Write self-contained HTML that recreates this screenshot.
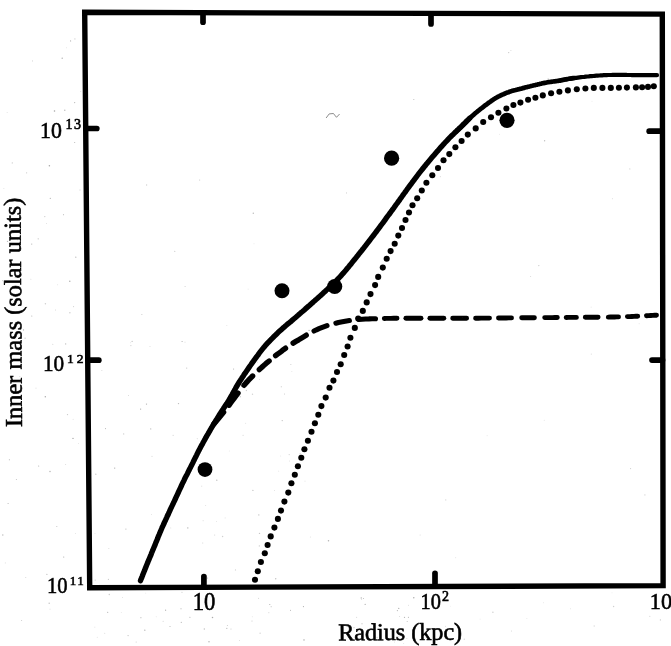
<!DOCTYPE html>
<html>
<head>
<meta charset="utf-8">
<title>Inner mass vs Radius</title>
<style>
  html, body { margin: 0; padding: 0; background: #ffffff; }
  body { width: 671px; height: 646px; overflow: hidden; }
  svg { display: block; filter: grayscale(1); }
  text { font-family: "Liberation Serif", serif; fill: #000; }
</style>
</head>
<body>
<svg width="671" height="646" viewBox="0 0 671 646">
  <rect x="0" y="0" width="671" height="646" fill="#ffffff"/>

  <!-- frame -->
  <polygon points="84.7,12.3 662.3,14.1 663.1,585.6 89.7,587.8" fill="none" stroke="#000" stroke-width="5.4" stroke-linejoin="miter"/>

  <!-- ticks -->
  <g stroke="#000" stroke-width="5.7" stroke-linecap="round" fill="none">
    <line x1="203" y1="14" x2="203" y2="22.2"/>
    <line x1="431" y1="14" x2="431" y2="24"/>
    <line x1="203.9" y1="586" x2="203.9" y2="576.5"/>
    <line x1="435" y1="586" x2="435" y2="573.4"/>
    <line x1="86" y1="128.5" x2="96.8" y2="128.5"/>
    <line x1="88" y1="360.2" x2="98.8" y2="360.2"/>
    <line x1="662" y1="131.2" x2="649.2" y2="131.2"/>
    <line x1="662.5" y1="360.1" x2="652" y2="360.1"/>
  </g>

  <!-- solid curve (total) -->
  <g fill="none" stroke="#000" stroke-linecap="round" stroke-linejoin="round">
    <path d="M140.5,580.6 L140.8,579.8 L141.2,578.8 L141.7,577.7 L142.2,576.4 L142.7,575.0 L143.3,573.5 L143.9,572.0 L144.6,570.4 L145.2,568.8 L145.8,567.2 L146.4,565.7 L147.0,564.3 L147.6,562.9 L148.1,561.5 L148.7,560.1 L149.3,558.7 L149.9,557.3 L150.5,555.9 L151.1,554.4 L151.6,553.0 L152.2,551.6 L152.8,550.1 L153.4,548.7 L154.0,547.3 L154.6,545.9 L155.2,544.5 L155.7,543.0 L156.3,541.6 L156.9,540.2 L157.5,538.8 L158.0,537.3 L158.6,535.9 L159.2,534.5 L159.8,533.0 L160.4,531.6 L161.0,530.2 L161.6,528.8 L162.2,527.3 L162.9,525.9 L163.5,524.5 L164.2,523.0 L164.8,521.6 L165.5,520.2 L166.1,518.8 L166.8,517.3 L167.4,515.9 L168.1,514.6 L168.7,513.2 L169.3,511.9 L169.9,510.5 L170.5,509.2 L171.1,507.9 L171.7,506.6 L172.3,505.4 L172.9,504.1 L173.5,502.8 L174.1,501.6 L174.7,500.3 L175.3,499.0 L175.9,497.7 L176.5,496.4 L177.1,495.1 L177.7,493.8 L178.3,492.5 L178.9,491.2 L179.5,489.9 L180.1,488.6 L180.7,487.3 L181.3,486.0 L181.9,484.7 L182.5,483.4 L183.2,482.0 L183.9,480.6 L184.5,479.2 L185.2,477.8 L185.9,476.4 L186.7,475.0 L187.4,473.6 L188.1,472.1 L188.8,470.7 L189.5,469.3 L190.3,467.8 L191.0,466.4 L191.7,465.0 L192.4,463.6 L193.1,462.2 L193.8,460.7 L194.5,459.3 L195.2,457.9 L195.9,456.5 L196.6,455.1 L197.3,453.6 L198.0,452.2 L198.7,450.8 L199.5,449.4 L200.2,448.0 L200.9,446.6 L201.7,445.2 L202.5,443.8 L203.2,442.4 L204.0,441.0 L204.8,439.6 L205.5,438.2 L206.3,436.8 L207.1,435.4 L207.9,434.1 L208.7,432.7 L209.5,431.3 L210.3,429.9 L211.1,428.5 L211.9,427.2 L212.7,425.8 L213.6,424.4 L214.4,423.0 L215.2,421.7 L216.0,420.3 L216.9,419.0 L217.7,417.6 L218.5,416.3 L219.3,415.0 L220.1,413.7 L220.9,412.5 L221.7,411.3 L222.5,410.1 L223.3,408.9 L224.0,407.7 L224.8,406.5 L225.6,405.3 L226.4,404.1 L227.2,402.9 L228.0,401.6 L228.8,400.3 L229.6,399.0 L230.4,397.6 L231.2,396.2 L232.0,394.8 L232.8,393.3 L233.6,391.9 L234.4,390.4 L235.2,389.0 L236.0,387.5 L236.9,386.0 L237.8,384.5 L238.7,383.0 L239.6,381.5 L240.6,380.0 L241.6,378.5 L242.6,376.9 L243.6,375.4 L244.6,373.8 L245.7,372.3 L246.8,370.7 L247.8,369.2 L248.9,367.6 L250.0,366.0 L251.1,364.5 L252.2,362.9 L253.3,361.4 L254.4,359.8 L255.6,358.2 L256.7,356.6 L257.9,355.1 L259.0,353.5 L260.2,351.9 L261.4,350.4 L262.6,348.9 L263.8,347.4 L265.0,346.0 L266.2,344.6 L267.5,343.2 L268.8,341.8 L270.1,340.5 L271.4,339.1 L272.7,337.8 L274.0,336.5 L275.3,335.3 L276.6,334.0 L277.8,332.8 L279.1,331.6 L280.3,330.5 L281.5,329.4 L282.6,328.4 L283.8,327.4 L284.9,326.4 L286.0,325.5 L287.0,324.6 L288.1,323.7 L289.2,322.8 L290.4,321.9 L291.5,320.9 L292.7,319.9 L294.0,318.8 L295.3,317.7 L296.7,316.5 L298.1,315.3 L299.5,314.0 L301.0,312.7 L302.5,311.5 L304.0,310.2 L305.4,308.9 L306.9,307.6 L308.3,306.4 L309.7,305.2 L311.0,304.0 L312.3,302.9 L313.5,301.8 L314.7,300.8 L315.8,299.8 L317.0,298.8 L318.1,297.8 L319.2,296.8 L320.4,295.8 L321.5,294.7 L322.6,293.7 L323.8,292.6 L325.0,291.5 L326.2,290.3 L327.5,289.2 L328.8,287.9 L330.1,286.7 L331.4,285.5 L332.7,284.2 L334.0,282.9 L335.3,281.6 L336.6,280.4 L337.8,279.1 L339.0,277.8 L340.2,276.6 L341.3,275.4 L342.4,274.1 L343.5,272.9 L344.5,271.7 L345.6,270.5 L346.6,269.3 L347.6,268.1 L348.6,266.9 L349.6,265.6 L350.6,264.4 L351.6,263.2 L352.6,261.9 L353.6,260.6 L354.7,259.4 L355.7,258.1 L356.7,256.8 L357.8,255.5 L358.8,254.2 L359.8,252.9 L360.9,251.6 L361.9,250.3 L362.9,249.0 L364.0,247.7 L365.0,246.4 L366.0,245.1 L367.1,243.7 L368.1,242.4 L369.2,241.0 L370.2,239.6 L371.3,238.2 L372.3,236.9 L373.4,235.5 L374.4,234.2 L375.4,232.8 L376.4,231.5 L377.4,230.2 L378.4,228.9 L379.3,227.7 L380.2,226.4 L381.1,225.2 L382.0,224.0 L382.9,222.8 L383.8,221.6 L384.7,220.4 L385.5,219.2 L386.4,217.9 L387.3,216.7 L388.2,215.5 L389.1,214.3 L390.1,213.0 L391.0,211.7 L392.0,210.4 L392.9,209.1 L393.9,207.8 L394.8,206.5 L395.7,205.2 L396.6,204.0 L397.5,202.8 L398.3,201.7 L399.1,200.6 L399.8,199.6 L400.4,198.7 L401.0,197.9 L401.5,197.2 L402.0,196.5 L402.5,195.8 L403.0,195.1 L403.5,194.3 L404.1,193.5 L404.8,192.6 L405.5,191.6 L406.3,190.5 L407.2,189.2 L408.2,187.9 L409.3,186.4 L410.4,184.9 L411.6,183.3 L412.8,181.6 L414.1,180.0 L415.3,178.3 L416.6,176.6 L417.8,175.0 L419.0,173.4 L420.2,171.9 L421.4,170.4 L422.5,169.0 L423.7,167.5 L424.9,166.1 L426.0,164.6 L427.2,163.2 L428.4,161.8 L429.5,160.4 L430.7,159.0 L431.9,157.6 L433.0,156.3 L434.2,154.9 L435.4,153.5 L436.5,152.2 L437.7,150.9 L438.9,149.5 L440.0,148.2 L441.2,146.9 L442.4,145.6 L443.5,144.3 L444.7,143.0 L445.8,141.8 L447.0,140.6 L448.1,139.4 L449.2,138.2 L450.3,137.1 L451.4,136.0 L452.5,134.9 L453.6,133.9 L454.7,132.8 L455.8,131.8 L456.8,130.8 L457.9,129.8 L458.9,128.8 L460.0,127.8 L461.0,126.8 L462.0,125.8 L463.0,124.9 L463.9,123.9 L464.9,123.0 L465.8,122.1 L466.7,121.1 L467.7,120.2 L468.6,119.3 L469.5,118.4" stroke-width="5.4"/>
    <path d="M455.8,131.8 L456.8,130.8 L457.9,129.8 L458.9,128.8 L460.0,127.8 L461.0,126.8 L462.0,125.8 L463.0,124.9 L463.9,123.9 L464.9,123.0 L465.8,122.1 L466.7,121.1 L467.7,120.2 L468.6,119.3 L469.5,118.4 L470.5,117.6 L471.4,116.7 L472.4,115.8 L473.4,114.9 L474.4,114.0 L475.4,113.2 L476.5,112.3 L477.5,111.4 L478.5,110.6 L479.6,109.7 L480.6,108.9 L481.7,108.1 L482.7,107.3 L483.8,106.5 L484.8,105.7 L485.8,104.9 L486.9,104.2 L487.9,103.4 L488.9,102.6 L490.0,101.9 L491.0,101.2 L492.0,100.4 L493.1,99.7 L494.1,99.1 L495.1,98.4 L496.2,97.8 L497.2,97.2 L498.2,96.6 L499.3,96.1 L500.3,95.6 L501.3,95.1 L502.3,94.6 L503.4,94.2 L504.4,93.8 L505.4,93.3 L506.4,92.9 L507.4,92.5 L508.5,92.2 L509.5,91.8 L510.5,91.4 L511.6,91.1 L512.6,90.8 L513.6,90.5 L514.7,90.2 L515.7,90.0 L516.7,89.7 L517.8,89.4 L518.8,89.2 L519.8,88.9 L520.9,88.7 L521.9,88.4 L522.9,88.1 L524.0,87.9 L525.0,87.6 L526.0,87.3 L527.1,87.1 L528.1,86.8 L529.1,86.6 L530.2,86.3 L531.2,86.0 L532.2,85.8 L533.3,85.5 L534.3,85.3 L535.3,85.1 L536.4,84.8 L537.4,84.6 L538.4,84.3 L539.5,84.1 L540.5,83.8 L541.5,83.6 L542.6,83.3 L543.6,83.1 L544.6,82.9 L545.7,82.7 L546.7,82.5 L547.7,82.3 L548.8,82.1 L549.9,82.0 L551.0,81.8 L552.0,81.7 L553.1,81.5 L554.2,81.4 L555.2,81.3 L556.3,81.1 L557.2,81.0 L558.2,80.8 L559.1,80.7 L559.9,80.6 L560.7,80.4 L561.3,80.3 L562.0,80.1 L562.6,80.0 L563.2,79.9 L563.8,79.7 L564.4,79.6 L565.1,79.5 L565.9,79.3 L566.9,79.2 L567.9,79.0 L569.1,78.8 L570.4,78.6 L571.7,78.4 L573.2,78.2 L574.7,78.0" stroke-width="4.7"/>
    <path d="M560.7,80.4 L561.3,80.3 L562.0,80.1 L562.6,80.0 L563.2,79.9 L563.8,79.7 L564.4,79.6 L565.1,79.5 L565.9,79.3 L566.9,79.2 L567.9,79.0 L569.1,78.8 L570.4,78.6 L571.7,78.4 L573.2,78.2 L574.7,78.0 L576.3,77.8 L577.9,77.6 L579.5,77.4 L581.1,77.2 L582.7,77.0 L584.3,76.9 L585.8,76.7 L587.3,76.5 L588.8,76.4 L590.3,76.2 L591.8,76.1 L593.3,76.0 L594.8,75.8 L596.2,75.7 L597.7,75.6 L599.2,75.5 L600.7,75.4 L602.2,75.3 L603.7,75.2 L605.2,75.1 L606.7,75.1 L608.2,75.0 L609.7,75.0 L611.2,75.0 L612.7,74.9 L614.1,74.9 L615.6,74.9 L617.1,74.9 L618.6,74.9 L620.1,74.9 L621.6,74.9 L623.1,74.9 L624.6,74.9 L626.1,74.9 L627.5,75.0 L629.0,75.0 L630.5,75.0 L632.0,75.1 L633.5,75.1 L635.0,75.1 L636.4,75.2 L637.9,75.2 L639.4,75.2 L640.9,75.2 L642.5,75.2 L644.2,75.2 L645.9,75.2 L647.6,75.2 L649.3,75.2 L650.9,75.2 L652.4,75.2 L653.8,75.2 L655.1,75.2 L656.2,75.2 L657.0,75.2" stroke-width="4.2"/>
  </g>

  <!-- dashed curve -->
  <g fill="none" stroke="#000" stroke-linecap="round" stroke-linejoin="round">
    <path d="M213.7,424.1 L215.4,422.2 L217.2,420.0 L219.1,417.7 L221.3,415.0 L223.6,412.3" stroke-width="5.4"/>
    <path d="M229.1,405.2 L230.8,402.8 L232.5,400.5 L234.3,398.1 L236.1,395.7 L238.0,393.1" stroke-width="5.4"/>
    <path d="M244.0,385.3 L245.6,383.4 L247.2,381.6 L249.0,379.7 L250.8,377.8 L252.6,376.0" stroke-width="5.4"/>
    <path d="M259.3,369.6 L261.3,367.8 L263.2,366.0 L265.2,364.3 L267.1,362.6 L269.1,361.0" stroke-width="5.4"/>
    <path d="M275.6,355.7 L277.5,354.2 L279.4,352.8 L281.4,351.3 L283.4,349.7 L285.5,348.2" stroke-width="5.4"/>
    <path d="M293.1,343.1 L295.9,341.4 L298.7,339.8 L301.3,338.2 L303.8,336.7 L306.2,335.2" stroke-width="5.4"/>
    <path d="M314.0,331.0 L316.5,329.8 L319.0,328.7 L321.6,327.7 L324.3,326.7 L327.0,325.7" stroke-width="5.1"/>
    <path d="M335.9,323.2 L338.5,322.5 L341.1,322.0 L343.8,321.5 L346.6,321.0 L349.4,320.6" stroke-width="5.1"/>
    <path d="M358.8,319.5 L362.2,319.2 L365.6,319.0 L368.9,318.9 L372.0,318.7 L375.5,318.7" stroke-width="5.1"/>
    <path d="M384.3,318.5 L386.3,318.4 L388.5,318.4 L390.9,318.4 L393.7,318.3 L397.0,318.3" stroke-width="4.9"/>
    <path d="M405.9,318.3 L408.6,318.3 L411.6,318.3 L414.5,318.3 L417.7,318.3 L421.0,318.3" stroke-width="4.9"/>
    <path d="M429.9,318.3 L432.7,318.3 L435.5,318.3 L438.3,318.3 L441.0,318.3 L443.8,318.3" stroke-width="4.9"/>
    <path d="M452.7,318.3 L455.6,318.3 L458.4,318.3 L461.1,318.3 L463.8,318.2 L466.6,318.2" stroke-width="4.9"/>
    <path d="M475.6,318.2 L478.3,318.2 L481.0,318.1 L483.9,318.1 L486.7,318.1 L489.5,318.1" stroke-width="4.9"/>
    <path d="M498.5,318.0 L501.0,318.0 L503.5,318.0 L506.1,318.0 L508.8,317.9 L511.5,317.9" stroke-width="4.9"/>
    <path d="M521.7,317.8 L524.2,317.8 L526.8,317.8 L529.3,317.8 L531.9,317.7 L534.4,317.7" stroke-width="4.9"/>
    <path d="M544.7,317.6 L547.4,317.6 L550.0,317.6 L552.4,317.6 L554.9,317.5 L557.3,317.5" stroke-width="4.9"/>
    <path d="M566.2,317.5 L568.4,317.4 L570.5,317.4 L572.5,317.4 L574.5,317.4 L576.4,317.4" stroke-width="4.9"/>
    <path d="M585.3,317.3 L587.8,317.3 L590.5,317.3 L593.0,317.3 L595.6,317.3 L598.1,317.2" stroke-width="4.9"/>
    <path d="M608.3,317.1 L610.4,317.0 L612.4,317.0 L614.6,317.0 L616.6,316.9 L618.5,316.9" stroke-width="4.9"/>
    <path d="M627.4,316.6 L629.7,316.6 L631.9,316.5 L634.0,316.4 L635.9,316.3 L637.7,316.3" stroke-width="4.9"/>
    <path d="M646.5,315.7 L648.6,315.6 L650.8,315.5 L652.8,315.4 L654.7,315.3 L656.5,315.2" stroke-width="4.9"/>
  </g>

  <!-- dotted curve -->
  <g fill="#000">
    <circle cx="255.0" cy="579.8" r="3.05"/>
    <circle cx="257.8" cy="571.3" r="3.05"/>
    <circle cx="260.9" cy="562.0" r="3.05"/>
    <circle cx="264.8" cy="553.2" r="3.05"/>
    <circle cx="267.6" cy="545.0" r="3.05"/>
    <circle cx="270.7" cy="536.4" r="3.05"/>
    <circle cx="274.4" cy="527.6" r="3.05"/>
    <circle cx="277.9" cy="518.9" r="3.05"/>
    <circle cx="281.0" cy="510.6" r="3.05"/>
    <circle cx="284.4" cy="501.6" r="3.05"/>
    <circle cx="288.3" cy="492.6" r="3.05"/>
    <circle cx="291.4" cy="483.2" r="3.05"/>
    <circle cx="294.8" cy="474.7" r="3.05"/>
    <circle cx="297.9" cy="466.2" r="3.05"/>
    <circle cx="301.3" cy="457.7" r="3.05"/>
    <circle cx="304.4" cy="449.2" r="3.05"/>
    <circle cx="307.9" cy="440.7" r="3.05"/>
    <circle cx="311.5" cy="431.8" r="3.05"/>
    <circle cx="314.9" cy="423.3" r="3.05"/>
    <circle cx="318.3" cy="414.7" r="3.05"/>
    <circle cx="321.4" cy="406.1" r="3.05"/>
    <circle cx="325.7" cy="397.6" r="3.05"/>
    <circle cx="329.5" cy="387.8" r="3.05"/>
    <circle cx="333.4" cy="380.6" r="3.05"/>
    <circle cx="337.0" cy="372.0" r="3.05"/>
    <circle cx="340.7" cy="364.3" r="3.05"/>
    <circle cx="344.2" cy="355.0" r="3.05"/>
    <circle cx="347.6" cy="346.5" r="3.05"/>
    <circle cx="350.4" cy="337.7" r="3.05"/>
    <circle cx="354.8" cy="327.9" r="3.05"/>
    <circle cx="358.2" cy="318.6" r="3.05"/>
    <circle cx="362.8" cy="310.9" r="3.05"/>
    <circle cx="366.7" cy="302.4" r="3.05"/>
    <circle cx="370.5" cy="294.1" r="3.05"/>
    <circle cx="375.1" cy="285.1" r="3.05"/>
    <circle cx="378.2" cy="276.9" r="3.05"/>
    <circle cx="382.8" cy="267.6" r="3.05"/>
    <circle cx="386.7" cy="258.8" r="3.05"/>
    <circle cx="390.6" cy="251.1" r="3.05"/>
    <circle cx="394.7" cy="243.7" r="3.05"/>
    <circle cx="398.3" cy="235.6" r="3.05"/>
    <circle cx="402.0" cy="228.0" r="3.05"/>
    <circle cx="405.5" cy="220.0" r="3.05"/>
    <circle cx="409.0" cy="212.5" r="3.05"/>
    <circle cx="412.5" cy="205.2" r="3.05"/>
    <circle cx="417.2" cy="198.2" r="3.05"/>
    <circle cx="421.8" cy="190.5" r="3.05"/>
    <circle cx="426.4" cy="182.8" r="3.05"/>
    <circle cx="432.3" cy="175.3" r="3.05"/>
    <circle cx="438.0" cy="168.0" r="3.05"/>
    <circle cx="443.5" cy="160.3" r="3.05"/>
    <circle cx="449.3" cy="154.1" r="3.05"/>
    <circle cx="455.4" cy="147.2" r="3.05"/>
    <circle cx="461.6" cy="141.0" r="3.05"/>
    <circle cx="467.8" cy="134.6" r="3.05"/>
    <circle cx="475.7" cy="128.4" r="3.05"/>
    <circle cx="483.2" cy="122.0" r="3.05"/>
    <circle cx="491.0" cy="117.3" r="3.05"/>
    <circle cx="498.4" cy="112.7" r="3.05"/>
    <circle cx="506.4" cy="108.5" r="3.05"/>
    <circle cx="513.4" cy="105.0" r="3.05"/>
    <circle cx="520.4" cy="102.6" r="3.05"/>
    <circle cx="528.1" cy="99.8" r="3.05"/>
    <circle cx="535.4" cy="97.7" r="3.05"/>
    <circle cx="542.8" cy="95.4" r="3.05"/>
    <circle cx="551.1" cy="93.3" r="3.05"/>
    <circle cx="559.4" cy="91.8" r="3.05"/>
    <circle cx="567.9" cy="90.4" r="3.05"/>
    <circle cx="576.8" cy="89.2" r="3.05"/>
    <circle cx="585.4" cy="88.5" r="3.05"/>
    <circle cx="593.8" cy="87.9" r="3.05"/>
    <circle cx="602.4" cy="87.9" r="3.05"/>
    <circle cx="610.8" cy="87.9" r="3.05"/>
    <circle cx="618.9" cy="87.8" r="3.05"/>
    <circle cx="626.9" cy="87.6" r="3.05"/>
    <circle cx="635.9" cy="87.4" r="3.05"/>
    <circle cx="642.1" cy="87.2" r="3.05"/>
    <circle cx="648.0" cy="86.9" r="3.05"/>
    <circle cx="653.8" cy="86.2" r="3.05"/>
  </g>

  <!-- scan noise -->
  <g fill="#555">
    <circle cx="8.1" cy="503.5" r="0.53" opacity="0.47"/>
    <circle cx="80.2" cy="353.9" r="0.55" opacity="0.29"/>
    <circle cx="23.5" cy="329.9" r="0.62" opacity="0.50"/>
    <circle cx="32.5" cy="60.9" r="0.47" opacity="0.53"/>
    <circle cx="19.1" cy="300.3" r="0.72" opacity="0.28"/>
    <circle cx="50.0" cy="609.1" r="0.44" opacity="0.43"/>
    <circle cx="74.7" cy="102.6" r="0.56" opacity="0.48"/>
    <circle cx="55.5" cy="310.0" r="0.43" opacity="0.41"/>
    <circle cx="31.8" cy="316.0" r="0.50" opacity="0.51"/>
    <circle cx="63.5" cy="214.7" r="0.58" opacity="0.35"/>
    <circle cx="38.2" cy="238.8" r="0.61" opacity="0.38"/>
    <circle cx="38.7" cy="466.0" r="0.52" opacity="0.52"/>
    <circle cx="16.4" cy="479.5" r="0.52" opacity="0.39"/>
    <circle cx="52.8" cy="344.2" r="0.52" opacity="0.28"/>
    <circle cx="9.4" cy="459.8" r="0.56" opacity="0.47"/>
    <circle cx="78.4" cy="443.4" r="0.37" opacity="0.36"/>
    <circle cx="49.4" cy="165.8" r="0.74" opacity="0.53"/>
    <circle cx="69.9" cy="312.8" r="0.69" opacity="0.31"/>
    <circle cx="26.7" cy="307.1" r="0.65" opacity="0.41"/>
    <circle cx="13.0" cy="233.0" r="0.48" opacity="0.36"/>
    <circle cx="15.2" cy="277.2" r="0.53" opacity="0.49"/>
    <circle cx="65.7" cy="343.9" r="0.53" opacity="0.49"/>
    <circle cx="73.0" cy="438.4" r="0.67" opacity="0.53"/>
    <circle cx="5.3" cy="562.9" r="0.46" opacity="0.41"/>
    <circle cx="65.7" cy="464.7" r="0.41" opacity="0.46"/>
    <circle cx="7.5" cy="241.4" r="0.68" opacity="0.39"/>
    <circle cx="50.0" cy="471.5" r="0.68" opacity="0.48"/>
    <circle cx="2.6" cy="280.6" r="0.54" opacity="0.29"/>
    <circle cx="45.3" cy="396.8" r="0.68" opacity="0.53"/>
    <circle cx="12.3" cy="162.9" r="0.61" opacity="0.31"/>
    <circle cx="19.9" cy="376.4" r="0.42" opacity="0.49"/>
    <circle cx="70.6" cy="40.9" r="0.56" opacity="0.49"/>
    <circle cx="80.0" cy="190.0" r="0.42" opacity="0.52"/>
    <circle cx="74.7" cy="142.5" r="0.53" opacity="0.47"/>
    <circle cx="69.6" cy="124.3" r="0.62" opacity="0.50"/>
    <circle cx="46.0" cy="122.1" r="0.36" opacity="0.35"/>
    <circle cx="66.6" cy="47.8" r="0.35" opacity="0.37"/>
    <circle cx="7.1" cy="112.7" r="0.36" opacity="0.42"/>
    <circle cx="57.7" cy="284.8" r="0.40" opacity="0.37"/>
    <circle cx="49.2" cy="603.2" r="0.75" opacity="0.34"/>
    <circle cx="2.8" cy="535.0" r="0.72" opacity="0.40"/>
    <circle cx="63.7" cy="557.0" r="0.59" opacity="0.51"/>
    <circle cx="3.9" cy="188.4" r="0.46" opacity="0.31"/>
    <circle cx="74.9" cy="38.9" r="0.62" opacity="0.29"/>
    <circle cx="30.9" cy="279.2" r="0.42" opacity="0.42"/>
    <circle cx="44.8" cy="216.6" r="0.64" opacity="0.32"/>
    <circle cx="17.4" cy="239.8" r="0.50" opacity="0.33"/>
    <circle cx="75.5" cy="533.4" r="0.39" opacity="0.38"/>
    <circle cx="20.6" cy="299.7" r="0.46" opacity="0.41"/>
    <circle cx="75.8" cy="257.2" r="0.61" opacity="0.44"/>
    <circle cx="62.2" cy="58.2" r="0.65" opacity="0.54"/>
    <circle cx="50.3" cy="198.3" r="0.62" opacity="0.47"/>
    <circle cx="54.5" cy="111.1" r="0.74" opacity="0.54"/>
    <circle cx="36.0" cy="388.1" r="0.37" opacity="0.55"/>
    <circle cx="67.5" cy="414.6" r="0.65" opacity="0.33"/>
    <circle cx="26.6" cy="172.8" r="0.59" opacity="0.30"/>
    <circle cx="73.6" cy="306.6" r="0.53" opacity="0.30"/>
    <circle cx="56.8" cy="526.5" r="0.60" opacity="0.34"/>
    <circle cx="64.8" cy="110.3" r="0.68" opacity="0.43"/>
    <circle cx="25.1" cy="338.2" r="0.60" opacity="0.35"/>
    <circle cx="69.8" cy="281.2" r="0.71" opacity="0.50"/>
    <circle cx="9.9" cy="420.7" r="0.47" opacity="0.48"/>
    <circle cx="45.4" cy="303.7" r="0.71" opacity="0.29"/>
    <circle cx="46.6" cy="223.3" r="0.36" opacity="0.48"/>
    <circle cx="46.9" cy="574.4" r="0.59" opacity="0.37"/>
    <circle cx="80.8" cy="91.7" r="0.37" opacity="0.48"/>
    <circle cx="31.7" cy="244.1" r="0.70" opacity="0.37"/>
    <circle cx="73.1" cy="419.3" r="0.48" opacity="0.29"/>
    <circle cx="21.6" cy="620.4" r="0.51" opacity="0.32"/>
    <circle cx="25.8" cy="577.7" r="0.42" opacity="0.49"/>
    <circle cx="136.2" cy="642.0" r="0.56" opacity="0.29"/>
    <circle cx="397.4" cy="610.6" r="0.64" opacity="0.42"/>
    <circle cx="122.4" cy="597.5" r="0.41" opacity="0.32"/>
    <circle cx="109.3" cy="594.4" r="0.73" opacity="0.30"/>
    <circle cx="258.7" cy="598.2" r="0.44" opacity="0.48"/>
    <circle cx="399.7" cy="616.4" r="0.35" opacity="0.55"/>
    <circle cx="107.7" cy="612.3" r="0.57" opacity="0.52"/>
    <circle cx="362.0" cy="623.7" r="0.51" opacity="0.50"/>
    <circle cx="377.1" cy="637.3" r="0.64" opacity="0.30"/>
    <circle cx="189.9" cy="617.3" r="0.55" opacity="0.50"/>
    <circle cx="170.0" cy="626.6" r="0.50" opacity="0.49"/>
    <circle cx="156.2" cy="616.8" r="0.39" opacity="0.33"/>
    <circle cx="398.7" cy="608.4" r="0.71" opacity="0.42"/>
    <circle cx="104.8" cy="633.2" r="0.37" opacity="0.50"/>
    <circle cx="94.9" cy="627.1" r="0.42" opacity="0.37"/>
    <circle cx="404.5" cy="617.3" r="0.61" opacity="0.48"/>
    <circle cx="128.1" cy="635.6" r="0.72" opacity="0.32"/>
    <circle cx="271.2" cy="606.7" r="0.65" opacity="0.28"/>
    <circle cx="260.1" cy="633.2" r="0.64" opacity="0.30"/>
    <circle cx="365.2" cy="604.4" r="0.67" opacity="0.41"/>
    <circle cx="144.8" cy="630.2" r="0.67" opacity="0.47"/>
    <circle cx="408.5" cy="605.3" r="0.44" opacity="0.32"/>
    <circle cx="268.9" cy="612.8" r="0.49" opacity="0.40"/>
    <circle cx="182.0" cy="592.2" r="0.54" opacity="0.35"/>
    <circle cx="239.5" cy="640.3" r="0.42" opacity="0.45"/>
    <circle cx="303.4" cy="606.6" r="0.54" opacity="0.54"/>
    <circle cx="204.3" cy="629.0" r="0.69" opacity="0.37"/>
    <circle cx="416.7" cy="624.5" r="0.55" opacity="0.47"/>
    <circle cx="231.0" cy="629.0" r="0.46" opacity="0.53"/>
    <circle cx="269.8" cy="604.6" r="0.52" opacity="0.52"/>
    <circle cx="356.7" cy="617.2" r="0.49" opacity="0.38"/>
    <circle cx="413.8" cy="597.8" r="0.71" opacity="0.51"/>
    <circle cx="165.6" cy="610.2" r="0.58" opacity="0.50"/>
    <circle cx="403.7" cy="643.6" r="0.46" opacity="0.33"/>
    <circle cx="252.0" cy="621.0" r="0.61" opacity="0.30"/>
    <circle cx="304.0" cy="639.9" r="0.72" opacity="0.53"/>
    <circle cx="394.5" cy="642.0" r="0.37" opacity="0.53"/>
    <circle cx="181.0" cy="608.7" r="0.53" opacity="0.54"/>
    <circle cx="290.5" cy="610.3" r="0.50" opacity="0.52"/>
    <circle cx="361.7" cy="599.2" r="0.45" opacity="0.38"/>
    <circle cx="163.1" cy="621.3" r="0.44" opacity="0.43"/>
    <circle cx="399.0" cy="636.1" r="0.39" opacity="0.33"/>
    <circle cx="227.4" cy="625.6" r="0.50" opacity="0.34"/>
    <circle cx="205.0" cy="602.6" r="0.69" opacity="0.47"/>
    <circle cx="226.8" cy="628.4" r="0.56" opacity="0.42"/>
    <circle cx="212.5" cy="617.4" r="0.74" opacity="0.49"/>
    <circle cx="363.5" cy="598.5" r="0.55" opacity="0.38"/>
    <circle cx="121.2" cy="612.6" r="0.38" opacity="0.34"/>
    <circle cx="354.0" cy="627.7" r="0.63" opacity="0.30"/>
    <circle cx="145.8" cy="593.1" r="0.39" opacity="0.30"/>
    <circle cx="406.9" cy="638.5" r="0.43" opacity="0.34"/>
    <circle cx="407.2" cy="621.6" r="0.50" opacity="0.40"/>
    <circle cx="181.3" cy="622.3" r="0.64" opacity="0.42"/>
    <circle cx="361.2" cy="597.9" r="0.59" opacity="0.55"/>
    <circle cx="140.9" cy="617.7" r="0.60" opacity="0.37"/>
    <circle cx="408.4" cy="617.2" r="0.54" opacity="0.52"/>
    <circle cx="97.2" cy="637.2" r="0.40" opacity="0.38"/>
    <circle cx="252.2" cy="616.8" r="0.37" opacity="0.36"/>
    <circle cx="209.0" cy="641.7" r="0.72" opacity="0.44"/>
    <circle cx="398.1" cy="636.9" r="0.50" opacity="0.31"/>
    <circle cx="570.6" cy="608.8" r="0.35" opacity="0.40"/>
    <circle cx="660.4" cy="619.9" r="0.60" opacity="0.33"/>
    <circle cx="649.8" cy="616.3" r="0.58" opacity="0.25"/>
    <circle cx="480.1" cy="619.1" r="0.44" opacity="0.21"/>
    <circle cx="511.4" cy="631.0" r="0.46" opacity="0.37"/>
    <circle cx="594.2" cy="626.0" r="0.71" opacity="0.21"/>
    <circle cx="464.3" cy="639.3" r="0.71" opacity="0.22"/>
    <circle cx="612.0" cy="592.8" r="0.40" opacity="0.22"/>
    <circle cx="492.9" cy="612.2" r="0.71" opacity="0.29"/>
    <circle cx="450.7" cy="606.2" r="0.35" opacity="0.21"/>
    <circle cx="526.9" cy="618.6" r="0.45" opacity="0.28"/>
    <circle cx="445.6" cy="626.3" r="0.51" opacity="0.23"/>
    <circle cx="543.4" cy="602.8" r="0.47" opacity="0.22"/>
    <circle cx="613.6" cy="606.5" r="0.73" opacity="0.28"/>
    <circle cx="458.5" cy="628.7" r="0.64" opacity="0.38"/>
    <circle cx="125.9" cy="529.1" r="0.69" opacity="0.33"/>
    <circle cx="201.8" cy="486.1" r="0.45" opacity="0.47"/>
    <circle cx="259.3" cy="545.9" r="0.53" opacity="0.38"/>
    <circle cx="140.6" cy="409.1" r="0.64" opacity="0.49"/>
    <circle cx="130.7" cy="342.8" r="0.38" opacity="0.36"/>
    <circle cx="281.3" cy="386.7" r="0.54" opacity="0.38"/>
    <circle cx="291.9" cy="371.3" r="0.36" opacity="0.38"/>
    <circle cx="178.5" cy="403.6" r="0.66" opacity="0.42"/>
    <circle cx="114.7" cy="468.1" r="0.67" opacity="0.48"/>
    <circle cx="95.0" cy="533.5" r="0.37" opacity="0.42"/>
    <circle cx="235.5" cy="569.9" r="0.60" opacity="0.27"/>
    <circle cx="252.5" cy="394.2" r="0.68" opacity="0.26"/>
    <circle cx="171.2" cy="500.5" r="0.41" opacity="0.41"/>
    <circle cx="258.8" cy="514.9" r="0.70" opacity="0.35"/>
    <circle cx="128.5" cy="395.6" r="0.51" opacity="0.26"/>
    <circle cx="261.5" cy="345.9" r="0.37" opacity="0.48"/>
    <circle cx="284.5" cy="393.9" r="0.49" opacity="0.46"/>
    <circle cx="240.5" cy="396.8" r="0.53" opacity="0.46"/>
    <circle cx="95.2" cy="580.1" r="0.58" opacity="0.30"/>
    <circle cx="283.0" cy="349.2" r="0.51" opacity="0.39"/>
    <circle cx="153.1" cy="553.1" r="0.63" opacity="0.29"/>
    <circle cx="130.9" cy="345.6" r="0.58" opacity="0.30"/>
    <circle cx="222.6" cy="536.5" r="0.70" opacity="0.28"/>
    <circle cx="173.1" cy="435.2" r="0.50" opacity="0.35"/>
    <circle cx="203.1" cy="520.7" r="0.47" opacity="0.34"/>
    <circle cx="186.7" cy="368.1" r="0.60" opacity="0.35"/>
    <circle cx="310.3" cy="537.0" r="0.44" opacity="0.31"/>
    <circle cx="278.8" cy="471.1" r="0.35" opacity="0.41"/>
    <circle cx="187.8" cy="527.9" r="0.65" opacity="0.48"/>
    <circle cx="259.3" cy="560.1" r="0.46" opacity="0.33"/>
    <circle cx="108.9" cy="548.5" r="0.41" opacity="0.39"/>
    <circle cx="214.7" cy="535.1" r="0.51" opacity="0.29"/>
    <circle cx="185.0" cy="342.1" r="0.47" opacity="0.41"/>
    <circle cx="108.4" cy="579.4" r="0.56" opacity="0.33"/>
    <circle cx="290.9" cy="364.6" r="0.48" opacity="0.48"/>
    <circle cx="151.4" cy="514.7" r="0.38" opacity="0.38"/>
    <circle cx="249.7" cy="382.9" r="0.48" opacity="0.39"/>
    <circle cx="233.6" cy="368.9" r="0.51" opacity="0.50"/>
    <circle cx="170.8" cy="527.9" r="0.43" opacity="0.37"/>
    <circle cx="216.8" cy="480.2" r="0.64" opacity="0.45"/>
    <circle cx="259.5" cy="533.4" r="0.70" opacity="0.33"/>
    <circle cx="289.4" cy="461.0" r="0.45" opacity="0.29"/>
    <circle cx="274.6" cy="490.4" r="0.38" opacity="0.40"/>
    <circle cx="105.5" cy="428.6" r="0.58" opacity="0.41"/>
    <circle cx="132.1" cy="341.3" r="0.58" opacity="0.45"/>
    <circle cx="282.2" cy="420.6" r="0.58" opacity="0.43"/>
    <circle cx="300.2" cy="453.9" r="0.70" opacity="0.33"/>
    <circle cx="146.5" cy="404.1" r="0.64" opacity="0.47"/>
    <circle cx="205.7" cy="505.4" r="0.41" opacity="0.38"/>
    <circle cx="197.2" cy="438.8" r="0.43" opacity="0.41"/>
    <circle cx="252.9" cy="490.4" r="0.65" opacity="0.36"/>
    <circle cx="295.4" cy="473.9" r="0.70" opacity="0.35"/>
    <circle cx="259.5" cy="379.6" r="0.38" opacity="0.48"/>
    <circle cx="182.1" cy="341.5" r="0.60" opacity="0.48"/>
    <circle cx="275.7" cy="578.8" r="0.72" opacity="0.36"/>
    <circle cx="150.0" cy="346.4" r="0.46" opacity="0.41"/>
    <circle cx="309.1" cy="330.4" r="0.68" opacity="0.44"/>
    <circle cx="257.4" cy="362.2" r="0.37" opacity="0.43"/>
    <circle cx="245.7" cy="423.2" r="0.49" opacity="0.26"/>
    <circle cx="328.5" cy="540.8" r="0.74" opacity="0.45"/>
    <circle cx="202.8" cy="543.0" r="0.43" opacity="0.42"/>
    <circle cx="150.7" cy="428.9" r="0.70" opacity="0.36"/>
    <circle cx="305.0" cy="481.1" r="0.47" opacity="0.32"/>
    <circle cx="95.8" cy="474.2" r="0.69" opacity="0.31"/>
    <circle cx="207.6" cy="577.9" r="0.51" opacity="0.48"/>
    <circle cx="289.2" cy="454.6" r="0.60" opacity="0.27"/>
    <circle cx="216.4" cy="521.5" r="0.44" opacity="0.26"/>
    <circle cx="101.9" cy="370.4" r="0.45" opacity="0.45"/>
    <circle cx="202.9" cy="465.0" r="0.48" opacity="0.32"/>
    <circle cx="225.1" cy="517.9" r="0.42" opacity="0.36"/>
    <circle cx="455.7" cy="557.7" r="0.46" opacity="0.28"/>
    <circle cx="413.8" cy="99.5" r="0.59" opacity="0.39"/>
    <circle cx="248.1" cy="289.1" r="0.40" opacity="0.30"/>
    <circle cx="639.1" cy="323.7" r="0.44" opacity="0.26"/>
    <circle cx="445.8" cy="499.9" r="0.53" opacity="0.30"/>
    <circle cx="548.2" cy="79.0" r="0.73" opacity="0.29"/>
    <circle cx="280.7" cy="456.0" r="0.45" opacity="0.23"/>
    <circle cx="239.5" cy="396.6" r="0.39" opacity="0.29"/>
    <circle cx="226.9" cy="325.6" r="0.41" opacity="0.35"/>
    <circle cx="612.4" cy="198.8" r="0.49" opacity="0.32"/>
    <circle cx="508.7" cy="52.6" r="0.62" opacity="0.36"/>
    <circle cx="538.8" cy="265.6" r="0.68" opacity="0.31"/>
    <circle cx="199.6" cy="180.0" r="0.59" opacity="0.31"/>
    <circle cx="544.2" cy="420.3" r="0.44" opacity="0.28"/>
    <circle cx="530.7" cy="276.5" r="0.44" opacity="0.39"/>
    <circle cx="346.5" cy="192.9" r="0.55" opacity="0.26"/>
    <circle cx="246.4" cy="390.5" r="0.67" opacity="0.28"/>
    <circle cx="185.1" cy="286.4" r="0.51" opacity="0.29"/>
    <circle cx="229.3" cy="451.0" r="0.43" opacity="0.21"/>
    <circle cx="487.1" cy="435.8" r="0.45" opacity="0.23"/>
    <circle cx="420.1" cy="535.0" r="0.45" opacity="0.31"/>
    <circle cx="243.1" cy="435.3" r="0.54" opacity="0.28"/>
    <circle cx="462.4" cy="317.6" r="0.43" opacity="0.28"/>
    <circle cx="630.6" cy="468.6" r="0.55" opacity="0.33"/>
    <circle cx="174.7" cy="251.4" r="0.71" opacity="0.24"/>
    <circle cx="644.9" cy="494.9" r="0.62" opacity="0.27"/>
    <circle cx="146.6" cy="185.0" r="0.65" opacity="0.28"/>
    <circle cx="544.6" cy="140.8" r="0.68" opacity="0.37"/>
    <circle cx="499.4" cy="134.2" r="0.44" opacity="0.21"/>
    <circle cx="123.7" cy="433.9" r="0.55" opacity="0.35"/>
    <circle cx="253.3" cy="213.3" r="0.71" opacity="0.40"/>
    <circle cx="152.0" cy="456.4" r="0.57" opacity="0.20"/>
    <circle cx="440.3" cy="176.8" r="0.49" opacity="0.39"/>
    <circle cx="510.9" cy="50.5" r="0.62" opacity="0.20"/>
    <circle cx="591.3" cy="354.1" r="0.60" opacity="0.20"/>
    <circle cx="141.9" cy="314.6" r="0.50" opacity="0.36"/>
    <circle cx="254.0" cy="243.8" r="0.40" opacity="0.30"/>
    <circle cx="629.8" cy="168.9" r="0.67" opacity="0.23"/>
    <circle cx="591.1" cy="307.1" r="0.40" opacity="0.36"/>
    <circle cx="592.0" cy="101.2" r="0.40" opacity="0.25"/>
  </g>
  <path d="M326.1,118 L329.2,113.9 L333.4,113.5 L336.5,117.3 L339.6,114" fill="none" stroke="#333" stroke-width="0.7" opacity="0.8"/>

  <!-- data points -->
  <g fill="#000">
    <circle cx="205" cy="469.6" r="7.4"/>
    <circle cx="282" cy="290.8" r="7.5"/>
    <circle cx="334.7" cy="286.5" r="7.6"/>
    <circle cx="391.6" cy="158.2" r="7.6"/>
    <circle cx="507" cy="120.3" r="7.6"/>
  </g>

  <g stroke="#000" stroke-width="0.6">
  <!-- x tick labels -->
  <text x="192.8" y="609.5" font-size="24.5" textLength="22.6" lengthAdjust="spacingAndGlyphs">10</text>
  <text x="420.5" y="608.6" font-size="22.5" textLength="20.4" lengthAdjust="spacingAndGlyphs">10</text>
  <text x="442" y="600.8" font-size="14">2</text>
  <text x="649.8" y="608.5" font-size="24" textLength="22.3" lengthAdjust="spacingAndGlyphs">10</text>

  <!-- y tick labels -->
  <text x="40" y="138.4" font-size="23" textLength="21.8" lengthAdjust="spacingAndGlyphs">10</text>
  <text x="65.6" y="129.4" font-size="14" textLength="15.5" lengthAdjust="spacing">13</text>
  <text x="43" y="371.4" font-size="24" textLength="21.2" lengthAdjust="spacingAndGlyphs">10</text>
  <text x="67" y="363.2" font-size="13.5" textLength="16.5" lengthAdjust="spacing">12</text>
  <text x="46.9" y="593.1" font-size="24" textLength="20.6" lengthAdjust="spacingAndGlyphs">10</text>
  <text x="69.8" y="584.7" font-size="13" textLength="14" lengthAdjust="spacing">11</text>

  <!-- axis titles -->
  <text transform="translate(338.2,640.4) rotate(-0.35)" font-size="24.3" textLength="124" lengthAdjust="spacing">Radius (kpc)</text>
  <text transform="translate(22,427) rotate(-90.38)" font-size="24.3" textLength="229.3" lengthAdjust="spacing">Inner mass (solar units)</text>
  </g>
</svg>
</body>
</html>
